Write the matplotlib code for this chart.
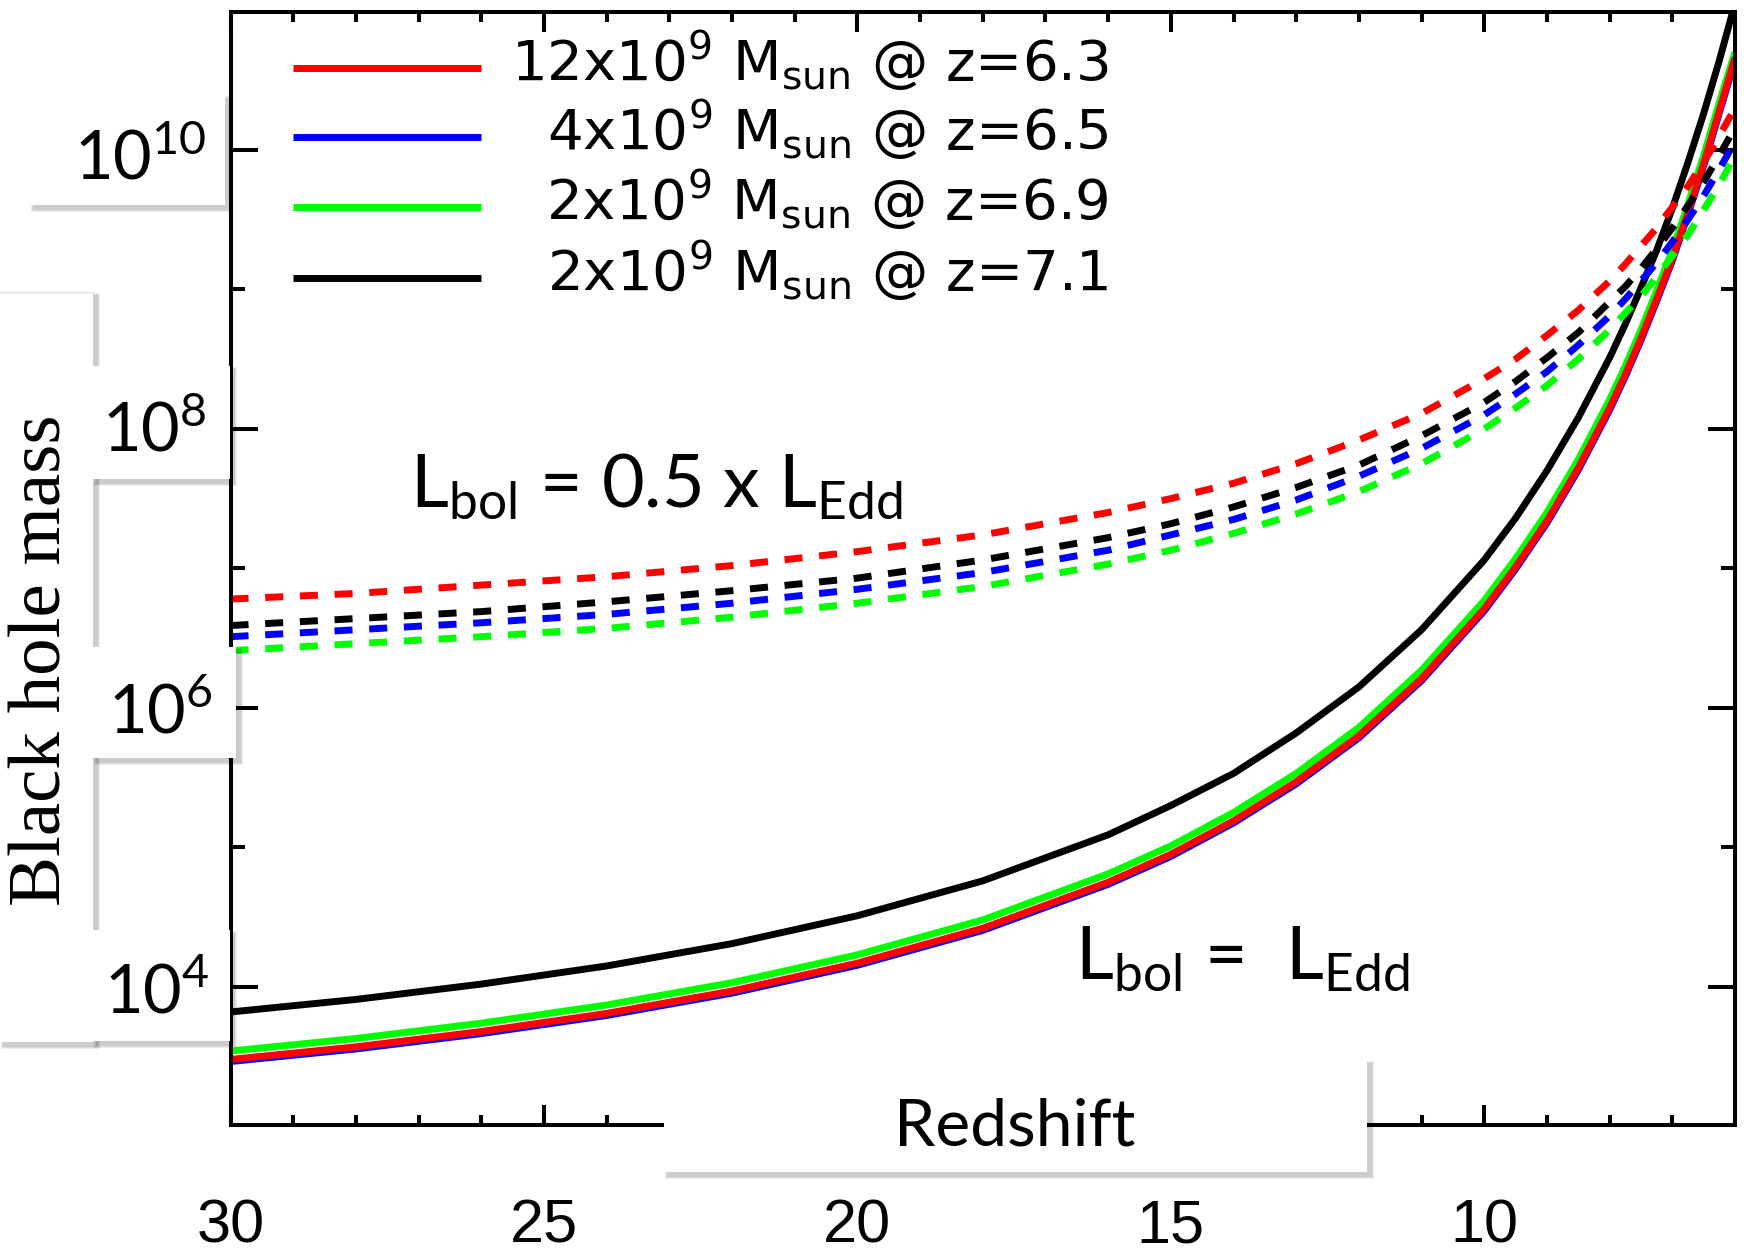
import numpy as np
import matplotlib
matplotlib.use('Agg')
import matplotlib.pyplot as plt
from matplotlib.patches import Rectangle
from matplotlib.ticker import NullFormatter

# redshift grid the curves were read at
redshift = [30, 28, 26, 24, 22, 20, 18, 16, 15, 14, 13, 12, 11, 10, 9.5, 9, 8.5, 8,
            7.75, 7.5, 7.25, 7, 6.75, 6.5, 6.25, 6.0]

# log10 black hole mass, L_bol = L_Edd (solid)
logm_red_edd = [3.48, 3.57, 3.68, 3.81, 3.97, 4.17, 4.42, 4.75, 4.95, 5.19, 5.47, 5.80, 6.21,
                6.71, 7.01, 7.34, 7.72, 8.15, 8.39, 8.65, 8.93, 9.22, 9.55, 9.90, 10.28, 10.66]
logm_blue_edd = [3.465, 3.555, 3.665, 3.795, 3.955, 4.155, 4.405, 4.735, 4.935, 5.175, 5.455,
                 5.785, 6.195, 6.695, 6.995, 7.325, 7.705, 8.135, 8.375, 8.635, 8.915, 9.205,
                 9.535, 9.885, 10.265, 10.64]
logm_green_edd = [3.54, 3.63, 3.74, 3.87, 4.03, 4.23, 4.48, 4.81, 5.01, 5.25, 5.53, 5.86, 6.27,
                  6.77, 7.07, 7.40, 7.78, 8.21, 8.45, 8.71, 8.99, 9.28, 9.61, 9.96, 10.34, 10.70]
logm_black_edd = [3.82, 3.91, 4.02, 4.15, 4.31, 4.51, 4.76, 5.09, 5.30, 5.53, 5.82, 6.15, 6.56,
                  7.06, 7.36, 7.70, 8.08, 8.51, 8.75, 9.01, 9.28, 9.58, 9.91, 10.26, 10.64, 11.05]

# log10 black hole mass, L_bol = 0.5 L_Edd (dashed)
logm_red_half = [6.78, 6.82, 6.88, 6.94, 7.02, 7.12, 7.24, 7.40, 7.50, 7.61, 7.75, 7.92, 8.11,
                 8.36, 8.50, 8.67, 8.85, 9.06, 9.18, 9.31, 9.44, 9.59, 9.74, 9.91, 10.10, 10.30]
logm_black_half = [6.59, 6.64, 6.69, 6.76, 6.84, 6.93, 7.06, 7.22, 7.32, 7.44, 7.58, 7.74, 7.95,
                   8.19, 8.34, 8.51, 8.69, 8.91, 9.02, 9.15, 9.29, 9.44, 9.60, 9.77, 9.96, 10.16]
logm_blue_half = [6.51, 6.56, 6.61, 6.67, 6.75, 6.85, 6.97, 7.13, 7.24, 7.35, 7.49, 7.66, 7.86,
                  8.10, 8.25, 8.41, 8.60, 8.81, 8.93, 9.06, 9.19, 9.34, 9.50, 9.67, 9.86, 10.06]
logm_green_half = [6.41, 6.46, 6.51, 6.57, 6.65, 6.75, 6.87, 7.03, 7.13, 7.25, 7.39, 7.55, 7.75,
                   8.00, 8.15, 8.31, 8.50, 8.71, 8.83, 8.95, 9.09, 9.24, 9.39, 9.57, 9.75, 9.96]

legend_labels = [r'12x10$^{\mathsf{9}}$ M$_{\mathsf{sun}}$ @ z=6.3',
                 r'4x10$^{\mathsf{9}}$ M$_{\mathsf{sun}}$ @ z=6.5',
                 r'2x10$^{\mathsf{9}}$ M$_{\mathsf{sun}}$ @ z=6.9',
                 r'2x10$^{\mathsf{9}}$ M$_{\mathsf{sun}}$ @ z=7.1']
legend_colors = ['#ff0000', '#0000ff', '#00ff00', 'black']

x_ticks = [30, 25, 20, 15, 10]
y_tick_labels = [r'10$^{\rm 10}$', r'10$^{\rm 8}$', r'10$^{\rm 6}$', r'10$^{\rm 4}$']

plt.rcParams['mathtext.fontset'] = 'custom'
plt.rcParams['mathtext.rm'] = 'Lato'
plt.rcParams['mathtext.sf'] = 'DejaVu Sans'

W, H = 1746, 1255
fig = plt.figure(figsize=(W / 100, H / 100), dpi=100)
fig.patch.set_facecolor('white')

ax = fig.add_axes([230.5 / W, 1 - 1125 / H, (1735 - 230.5) / W, (1125 - 11.7) / H])
ax.set_yscale('log')
ax.set_xlim(30, 6)
ax.set_ylim(10 ** 3.01, 10 ** 10.99)

z = np.array(redshift)
lw = 5
solid = [(logm_blue_edd, '#0000ff'), (logm_green_edd, '#00ff00'),
         (logm_red_edd, '#ff0000'), (logm_black_edd, 'black')]
for vals, c in solid:
    ax.plot(z, 10 ** np.array(vals), color=c, lw=lw, solid_capstyle='butt')

dashed = [(logm_green_half, '#00ff00'), (logm_blue_half, '#0000ff'),
          (logm_black_half, 'black'), (logm_red_half, '#ff0000')]
for vals, c in dashed:
    ax.plot(z, 10 ** np.array(vals), color=c, lw=lw, ls=(0, (2.6, 2.4)),
            dash_capstyle='butt')

for s in ax.spines.values():
    s.set_linewidth(2.9)

ax.set_xticks(x_ticks)
ax.set_xticks(range(7, 30), minor=True)
ax.set_xticklabels([str(t) for t in x_ticks], fontsize=44, family='Liberation Sans')
ax.set_yticks([1e4, 1e6, 1e8, 1e10])
ax.set_yticks([1e5, 1e7, 1e9], minor=True)
ax.yaxis.set_major_formatter(NullFormatter())
ax.yaxis.set_minor_formatter(NullFormatter())
ax.tick_params(which='both', direction='in', top=True, right=True, width=2.9)
ax.tick_params(axis='x', which='major', length=14.4, pad=53)
ax.tick_params(axis='x', which='minor', length=7.2)
ax.tick_params(axis='y', which='major', length=19.5)
ax.tick_params(axis='y', which='minor', length=10)

ax.text(27.13, 10 ** 7.44, r'L$_{\rm bol}$ = 0.5 x L$_{\rm Edd}$', fontsize=53,
        family='Lato', va='baseline', ha='left')
ax.text(16.53, 10 ** 4.06, r'L$_{\rm bol}$ =  L$_{\rm Edd}$', fontsize=53,
        family='Lato', va='baseline', ha='left')

# overlay in pixel coordinates for the pasted label boxes and legend
ov = fig.add_axes([0, 0, 1, 1], zorder=10)
ov.set_xlim(0, W)
ov.set_ylim(H, 0)
ov.axis('off')
ov.patch.set_alpha(0)


def panel(x0, y0, x1, y1, off=4, blur=3, top_edge=False):
    for k in range(blur, 0, -1):
        ov.add_patch(Rectangle((x0 + off - k, y0 + off - k), x1 - x0 + 2 * k,
                               y1 - y0 + 2 * k, facecolor='black', alpha=0.07, lw=0))
    ov.add_patch(Rectangle((x0, y0), x1 - x0, y1 - y0, facecolor='white', lw=0))
    if top_edge:
        ov.plot([x0, x1], [y0, y0], color='#e4e4e4', lw=1)


panel(0, 292, 93, 1042, top_edge=True)
panel(30, 95, 225, 205)
panel(93, 366, 230, 479)
panel(93, 647, 236, 758)
panel(93, 930, 230, 1041)
panel(664, 1060, 1367, 1172)

label_pos = [(207, 180), (207, 452), (213, 734), (210, 1014)]
for (x, y), t in zip(label_pos, y_tick_labels):
    ov.text(x, y, t, fontsize=48, family='Lato', ha='right', va='baseline')

ov.text(43, 660, 'Black hole mass', fontsize=54, family='Liberation Serif',
        rotation=90, ha='center', va='center')
ov.text(1015, 1146, 'Redshift', fontsize=47.5, family='Lato', ha='center', va='baseline')

leg_y = [68, 137, 207, 278]
for y, lab, c in zip(leg_y, legend_labels, legend_colors):
    ov.plot([293, 481], [y, y], color=c, lw=lw, solid_capstyle='butt')
    ov.text(1109, y + 12, lab, fontsize=40.5, family='DejaVu Sans', ha='right', va='baseline')

fig.savefig('out.png', dpi=100, facecolor='white')
